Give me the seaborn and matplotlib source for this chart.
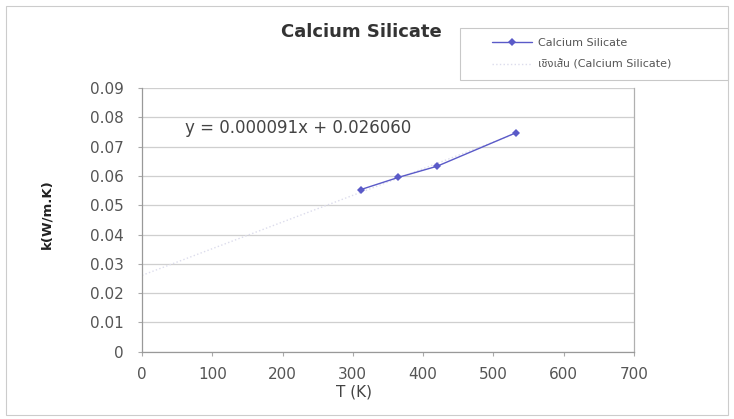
import matplotlib
matplotlib.use('Agg')
import matplotlib.pyplot as plt
import seaborn as sns
import numpy as np
import pandas as pd
from matplotlib.patches import Rectangle
from matplotlib.legend_handler import HandlerLine2D

# values
temps = [311, 365, 420, 533]
k_vals = [0.0553, 0.0595, 0.0633, 0.0748]
slope = 0.000091
intercept = 0.026060
x_ticks = [0, 100, 200, 300, 400, 500, 600, 700]
y_ticks = [0, 0.01, 0.02, 0.03, 0.04, 0.05, 0.06, 0.07, 0.08, 0.09]
y_labels = ['0', '0.01', '0.02', '0.03', '0.04', '0.05', '0.06', '0.07', '0.08', '0.09']
series_name = 'Calcium Silicate'
trend_name = 'เชิงเส้น (Calcium Silicate)'

sns.set_style('white')
plt.rcParams['font.family'] = ['DejaVu Sans', 'Noto Sans Thai']

df = pd.DataFrame({'T': temps, 'k': k_vals})

fig = plt.figure(figsize=(7.34, 4.19), dpi=100)
ax = fig.add_axes([0.1935, 0.1606, 0.670, 0.6294])

sns.lineplot(data=df, x='T', y='k', ax=ax, color='#5a5ac8', marker='D',
             markersize=4.5, markeredgewidth=0, lw=1.0, label=series_name,
             zorder=3)

# faint linear trendline from the equation
tx = np.array([0, max(temps)])
ax.plot(tx, slope * tx + intercept, color='#dcdcec', lw=1.0, ls=':',
        label=trend_name, zorder=2)

ax.set_xlim(0, 700)
ax.set_ylim(0, 0.09)
ax.set_xticks(x_ticks)
ax.set_yticks(y_ticks)
ax.set_yticklabels(y_labels)
ax.yaxis.grid(True, color='#cfcfcf', lw=0.9)
ax.xaxis.grid(False)
for s in ax.spines.values():
    s.set_color('#b0b0b0')
    s.set_linewidth(0.9)
ax.spines['top'].set_visible(False)
ax.spines['left'].set_color('#999999')
ax.spines['bottom'].set_color('#999999')
ax.tick_params(axis='both', colors='#aaaaaa', labelcolor='#555555', labelsize=11,
               length=3, direction='out', left=True, bottom=True)
ax.tick_params(axis='x', pad=8)
ax.tick_params(axis='y', pad=10)

ax.set_xlabel('T (K)', fontsize=11, color='#444444')
ax.xaxis.set_label_coords(0.431, -0.125)
ax.set_ylabel('k(W/m.K)', fontsize=9.5, color='#222222', fontweight='bold')
ax.yaxis.set_label_coords(-0.181, 0.522)

ax.text(61, 0.0763, 'y = 0.000091x + 0.026060', fontsize=12, color='#444444',
        va='center', ha='left')

fig.text(0.493, 0.923, 'Calcium Silicate', fontsize=13, fontweight='bold',
         color='#333333', ha='center', va='center')

leg = ax.legend(loc='upper left', bbox_to_anchor=(460 / 734, 1 - 80 / 419, 268 / 734, 52 / 419),
                bbox_transform=fig.transFigure, mode='expand', fontsize=8,
                frameon=True, fancybox=False, handlelength=5.6, handletextpad=0.5,
                borderpad=0.9, labelspacing=1.0, borderaxespad=0,
                handler_map={plt.Line2D: HandlerLine2D(xpad=2.0)})
leg.get_frame().set_edgecolor('#bbbbbb')
leg.get_frame().set_linewidth(0.8)
for t in leg.get_texts():
    t.set_color('#555555')

# outer chart border
fig.patches.append(Rectangle((0.008, 0.01), 0.984, 0.975, transform=fig.transFigure,
                             fill=False, edgecolor='#cccccc', lw=0.8))

fig.savefig('out.png', dpi=100)
